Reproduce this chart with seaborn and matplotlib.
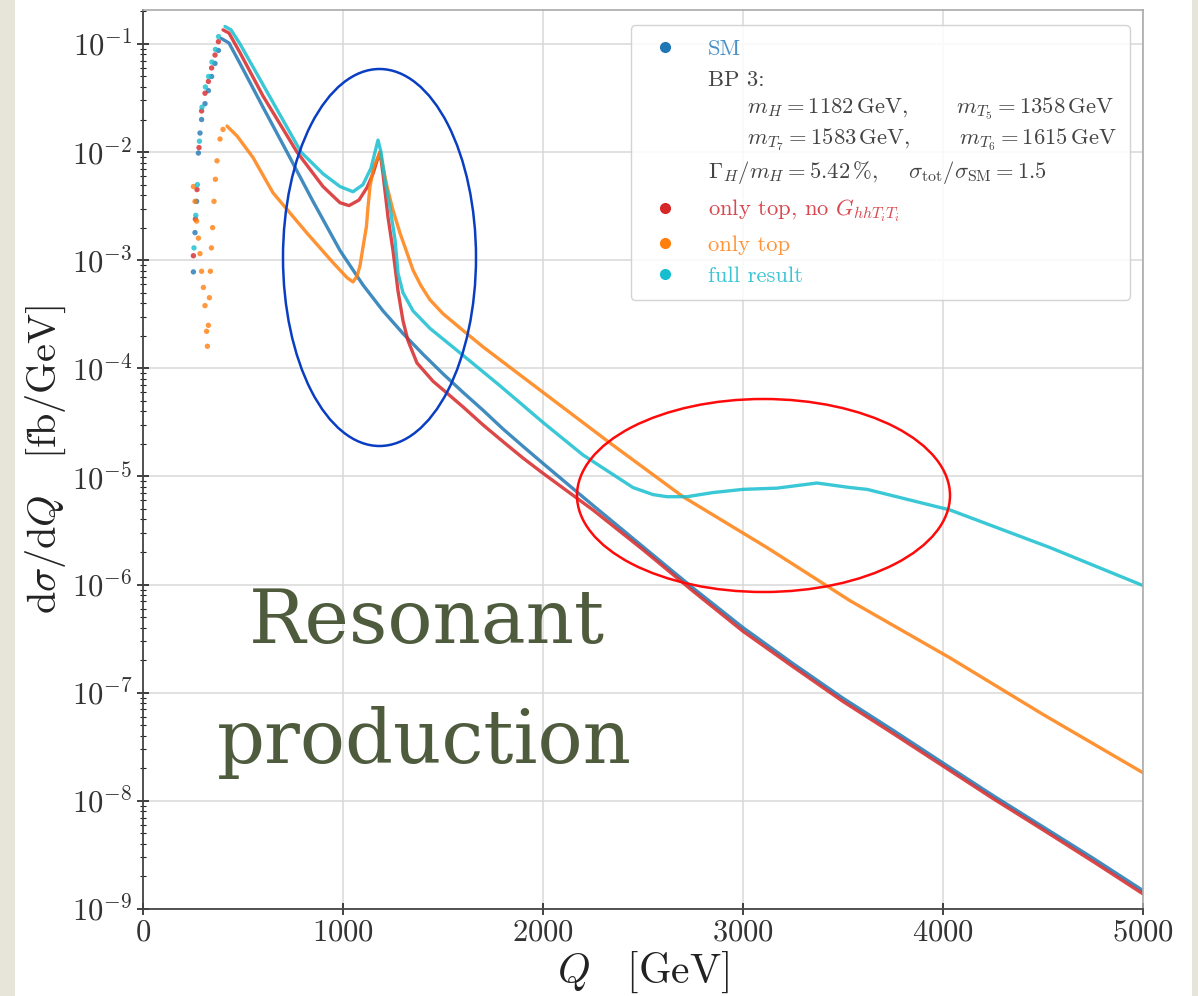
import numpy as np
import pandas as pd
import seaborn as sns
import matplotlib.pyplot as plt
from matplotlib.patches import Ellipse, Rectangle
from matplotlib.lines import Line2D
from matplotlib.ticker import FixedLocator, NullFormatter

sns.set_style("whitegrid")
plt.rcParams['font.family'] = 'serif'
plt.rcParams['font.serif'] = ['cmr10', 'DejaVu Serif']
plt.rcParams['mathtext.fontset'] = 'cm'
plt.rcParams['axes.formatter.use_mathtext'] = True

W, H = 1198, 996

# --- data (Q in GeV, dsigma/dQ in fb/GeV) ---
# sparse dots below the hh threshold peak
sm_dot_q = [252, 260, 268, 277, 285, 293, 310, 327, 343, 360, 377]
sm_dot_v = [7.8e-4, 1.8e-3, 3.5e-3, 9.8e-3, 1.5e-2, 2.0e-2, 2.8e-2, 3.7e-2, 5.0e-2, 6.6e-2, 8.7e-2]
nog_dot_q = [252, 262, 270, 280, 293, 310, 327, 343, 360, 377]
nog_dot_v = [1.1e-3, 2.4e-3, 4.5e-3, 1.1e-2, 2.4e-2, 3.5e-2, 4.5e-2, 6.0e-2, 7.9e-2, 0.105]
full_dot_q = [255, 264, 272, 282, 295, 312, 328, 345, 362, 378]
full_dot_v = [1.3e-3, 2.6e-3, 5.0e-3, 1.26e-2, 2.6e-2, 4.0e-2, 5.0e-2, 6.8e-2, 8.9e-2, 0.117]
top_dot_q = [252, 260, 268, 277, 285, 293, 302, 310, 318, 322, 327, 332, 337,
             342, 348, 355, 362, 370, 385, 400]
top_dot_v = [4.8e-3, 3.5e-3, 2.3e-3, 1.6e-3, 1.15e-3, 7.9e-4, 5.6e-4, 3.8e-4, 2.2e-4,
             1.6e-4, 2.5e-4, 4.5e-4, 7.9e-4, 1.3e-3, 2.0e-3, 3.5e-3, 5.6e-3, 8.3e-3,
             1.32e-2, 1.62e-2]

# main curves
sm_q = [393, 430, 485, 600, 720, 850, 985, 1100, 1200, 1300, 1400, 1500, 1600, 1700,
        1800, 1900, 2000, 2250, 2500, 2750, 3000, 3250, 3500, 3750, 4000, 4250, 4500,
        4750, 5000]
sm_v = [0.112, 0.102, 0.066, 0.026, 0.010, 3.5e-3, 1.23e-3, 5.9e-4, 3.4e-4, 2.1e-4,
        1.35e-4, 8.9e-5, 6.0e-5, 4.1e-5, 2.75e-5, 1.9e-5, 1.32e-5, 5.4e-6, 2.24e-6,
        9.3e-7, 4.0e-7, 1.86e-7, 8.9e-8, 4.5e-8, 2.24e-8, 1.12e-8, 5.75e-9, 2.95e-9,
        1.48e-9]

nog_q = [400, 430, 485, 600, 770, 900, 985, 1030, 1080, 1120, 1150, 1170, 1185, 1200,
         1225, 1250, 1275, 1300, 1325, 1370, 1450, 1520, 1600, 1700, 1800, 1900, 2000,
         2250, 2500, 2750, 3000, 3250, 3500, 3750, 4000, 4250, 4500, 4750, 5000]
nog_v = [0.135, 0.126, 0.083, 0.033, 0.010, 4.8e-3, 3.4e-3, 3.2e-3, 3.6e-3, 4.7e-3,
         6.3e-3, 8.3e-3, 0.010, 6.3e-3, 2.5e-3, 1.23e-3, 5.2e-4, 2.75e-4, 1.8e-4,
         1.12e-4, 7.6e-5, 5.9e-5, 4.4e-5, 3.0e-5, 2.1e-5, 1.48e-5, 1.07e-5, 4.9e-6,
         2.1e-6, 8.7e-7, 3.7e-7, 1.74e-7, 8.3e-8, 4.2e-8, 2.1e-8, 1.05e-8, 5.4e-9,
         2.75e-9, 1.38e-9]

top_q = [420, 470, 550, 650, 820, 950, 1020, 1050, 1070, 1085, 1100, 1117, 1125, 1135,
         1153, 1185, 1220, 1250, 1285, 1320, 1350, 1390, 1435, 1500, 1600, 1700, 1785,
         2000, 2335, 2700, 3120, 3535, 4035, 4500, 5000]
top_v = [0.0174, 0.0141, 8.9e-3, 4.2e-3, 1.78e-3, 9.5e-4, 6.9e-4, 6.3e-4, 7.1e-4,
         8.9e-4, 1.32e-3, 2.04e-3, 3.1e-3, 4.8e-3, 7.2e-3, 0.010, 4.8e-3, 2.9e-3,
         1.78e-3, 1.17e-3, 8.1e-4, 5.8e-4, 4.3e-4, 3.2e-4, 2.24e-4, 1.58e-4, 1.2e-4,
         6.0e-5, 2.04e-5, 6.5e-6, 2.2e-6, 7.1e-7, 2.1e-7, 6.3e-8, 1.82e-8]

full_q = [410, 440, 485, 600, 790, 900, 985, 1050, 1100, 1140, 1175, 1190, 1210, 1235,
          1260, 1275, 1300, 1350, 1435, 1600, 1785, 2000, 2200, 2450, 2550, 2620, 2720,
          2850, 3000, 3170, 3370, 3535, 3620, 4035, 4535, 5000]
full_v = [0.145, 0.135, 0.100, 0.042, 0.010, 6.3e-3, 4.8e-3, 4.3e-3, 5.0e-3, 7.1e-3,
          0.0129, 0.010, 5.5e-3, 3.1e-3, 1.55e-3, 7.6e-4, 5.0e-4, 3.4e-4, 2.34e-4,
          1.32e-4, 6.9e-5, 3.16e-5, 1.58e-5, 7.9e-6, 6.8e-6, 6.5e-6, 6.5e-6, 7.1e-6,
          7.6e-6, 7.8e-6, 8.7e-6, 7.9e-6, 7.6e-6, 4.9e-6, 2.2e-6, 9.8e-7]

y_ticks = [1e-9, 1e-8, 1e-7, 1e-6, 1e-5, 1e-4, 1e-3, 1e-2, 1e-1]
x_ticks = [0, 1000, 2000, 3000, 4000, 5000]

ORDER = ["SM", "noG", "top", "full"]
COLORS = {"SM": "#1f77b4", "noG": "#d62728", "top": "#ff7f0e", "full": "#17becf"}

lines = pd.concat([
    pd.DataFrame({"Q": sm_q, "dsig": sm_v, "curve": "SM"}),
    pd.DataFrame({"Q": nog_q, "dsig": nog_v, "curve": "noG"}),
    pd.DataFrame({"Q": top_q, "dsig": top_v, "curve": "top"}),
    pd.DataFrame({"Q": full_q, "dsig": full_v, "curve": "full"}),
], ignore_index=True)

dots = pd.concat([
    pd.DataFrame({"Q": sm_dot_q, "dsig": sm_dot_v, "curve": "SM"}),
    pd.DataFrame({"Q": nog_dot_q, "dsig": nog_dot_v, "curve": "noG"}),
    pd.DataFrame({"Q": top_dot_q, "dsig": top_dot_v, "curve": "top"}),
    pd.DataFrame({"Q": full_dot_q, "dsig": full_dot_v, "curve": "full"}),
], ignore_index=True)

fig = plt.figure(figsize=(W / 100, H / 100), dpi=100)
ax = fig.add_axes([143 / W, 1 - 909 / H, 1000 / W, 899 / H])

sns.lineplot(data=lines, x="Q", y="dsig", hue="curve", hue_order=ORDER, palette=COLORS,
             estimator=None, linewidth=2.4, alpha=0.85, legend=False, ax=ax)
sns.scatterplot(data=dots, x="Q", y="dsig", hue="curve", hue_order=ORDER, palette=COLORS,
                s=15, linewidth=0, alpha=0.8, legend=False, ax=ax)

ax.set_yscale("log")
ax.set_xlim(0, 5000)
ax.set_ylim(1e-9, 0.206)
ax.set_xticks(x_ticks)
ax.set_yticks(y_ticks)
minor = [m * t for t in y_ticks[:-1] for m in range(2, 10)] + [0.2]
ax.yaxis.set_minor_locator(FixedLocator(minor))
ax.yaxis.set_minor_formatter(NullFormatter())

ax.grid(which="major", color="#d9d9d9", linewidth=1.1)
ax.grid(which="minor", visible=False)
ax.tick_params(which="major", direction="inout", length=9, width=1.2, color="#222",
               labelsize=22, labelcolor="#333", left=True, bottom=True, pad=3)
ax.tick_params(which="minor", direction="inout", length=5, width=0.8, color="#222",
               left=True, bottom=False)
for side in ["left", "bottom"]:
    ax.spines[side].set_color("#444")
    ax.spines[side].set_linewidth(1.3)
for side in ["top", "right"]:
    ax.spines[side].set_color("#aaaaaa")
    ax.spines[side].set_linewidth(1.2)

ax.set_xlabel(r"$Q\quad[\mathrm{GeV}]$", fontsize=30, color="#222", labelpad=2)
ax.set_ylabel(r"$\mathrm{d}\sigma/\mathrm{d}Q\quad[\mathrm{fb/GeV}]$", fontsize=29,
              color="#222", labelpad=3)

# legend
bp_label = ("BP 3:\n"
            r"$\qquad m_H = 1182\,\mathrm{GeV},\qquad\; m_{T_5} = 1358\,\mathrm{GeV}$" "\n"
            r"$\qquad m_{T_7} = 1583\,\mathrm{GeV},\qquad\; m_{T_6} = 1615\,\mathrm{GeV}$" "\n"
            r"$\Gamma_H/m_H = 5.42\,\%,\quad\ \sigma_{\mathrm{tot}}/\sigma_{\mathrm{SM}} = 1.5$")
handles = [
    Line2D([], [], ls="none", marker="o", ms=7, color=COLORS["SM"]),
    Line2D([], [], ls="none", marker="none"),
    Line2D([], [], ls="none", marker="o", ms=7, color=COLORS["noG"]),
    Line2D([], [], ls="none", marker="o", ms=7, color=COLORS["top"]),
    Line2D([], [], ls="none", marker="o", ms=7, color=COLORS["full"]),
]
labels = ["SM", bp_label, r"only top, no $G_{hhT_iT_i}$", "only top", "full result"]
leg = ax.legend(handles, labels, loc="upper right", bbox_to_anchor=(0.987, 0.983),
                borderaxespad=0, fontsize=16.3, frameon=True, fancybox=True,
                framealpha=0.85, edgecolor="#cccccc", handlelength=1.8,
                handletextpad=1.0, borderpad=0.6, labelspacing=0.5,
                labelcolor=["#4a90c8", "#444444", "#d9474f", "#ff943a", "#3cc6d4"])
leg.get_texts()[1].set_linespacing(1.3)

# annotations drawn over the figure
fig.add_artist(Ellipse((379.5 / W, 1 - 257.5 / H), 193 / W, 377 / H,
                       transform=fig.transFigure, fill=False, edgecolor="#0a3ec2", lw=1.8))
fig.add_artist(Ellipse((763.5 / W, 1 - 495.5 / H), 373 / W, 193 / H,
                       transform=fig.transFigure, fill=False, edgecolor="#ff0a0a", lw=1.8))
fig.text(427 / W, 1 - 643 / H, "Resonant", ha="center", va="baseline", fontsize=54,
         color="#4e5b3d", family="DejaVu Serif")
fig.text(424 / W, 1 - 763 / H, "production", ha="center", va="baseline", fontsize=54,
         color="#4e5b3d", family="DejaVu Serif")

# beige slide margins
fig.add_artist(Rectangle((0, 0), 15 / W, 1, transform=fig.transFigure,
                         facecolor="#e7e4da", edgecolor="none"))
fig.add_artist(Rectangle((1192 / W, 0), 6 / W, 1, transform=fig.transFigure,
                         facecolor="#e7e4da", edgecolor="none"))

fig.savefig("out.png", dpi=100)
